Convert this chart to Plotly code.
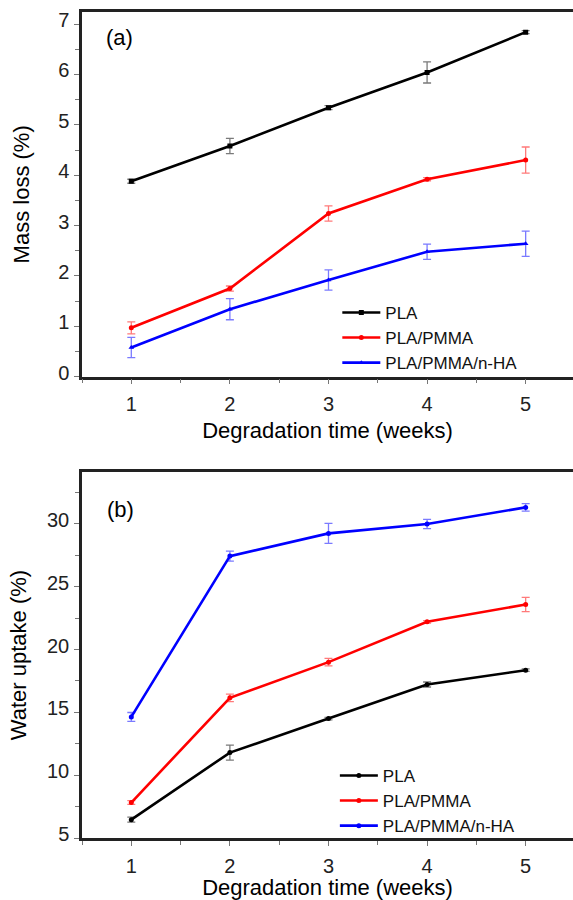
import plotly.graph_objects as go

# ---------------- data ----------------
weeks = [1, 2, 3, 4, 5]
series_names = ["PLA", "PLA/PMMA", "PLA/PMMA/n-HA"]

# (a) Mass loss (%)
mass_pla = [3.88, 4.58, 5.34, 6.04, 6.84]
mass_pla_err = [0.04, 0.15, 0.04, 0.21, 0.03]
mass_pmma = [0.97, 1.75, 3.24, 3.92, 4.30]
mass_pmma_err = [0.12, 0.05, 0.15, 0.03, 0.26]
mass_nha = [0.58, 1.34, 1.92, 2.48, 2.64]
mass_nha_err = [0.20, 0.21, 0.20, 0.15, 0.25]

# (b) Water uptake (%)
water_pla = [6.46, 11.80, 14.51, 17.22, 18.36]
water_pla_err = [0.20, 0.60, 0.10, 0.20, 0.10]
water_pmma = [7.82, 16.16, 19.00, 22.21, 23.59]
water_pmma_err = [0.15, 0.30, 0.30, 0.10, 0.57]
water_nha = [14.64, 27.44, 29.25, 30.00, 31.32]
water_nha_err = [0.35, 0.40, 0.80, 0.37, 0.30]

x_ticks = [1, 2, 3, 4, 5]
mass_ticks = [0, 1, 2, 3, 4, 5, 6, 7]
water_ticks = [5, 10, 15, 20, 25, 30]

# ---------------- styles ----------------
FONT = "Liberation Sans, Arial, Helvetica, sans-serif"
line_cols = ["#000000", "#ff0000", "#0000ff"]
err_cols = ["#7a7a7a", "#ff7a7a", "#7a7aff"]
sym_top = ["square", "circle", "triangle-up"]
sym_bot = ["circle", "circle", "circle"]

fig = go.Figure()

top_sets = [(mass_pla, mass_pla_err), (mass_pmma, mass_pmma_err), (mass_nha, mass_nha_err)]
bot_sets = [(water_pla, water_pla_err), (water_pmma, water_pmma_err), (water_nha, water_nha_err)]

for i, (vals, errs) in enumerate(top_sets):
    fig.add_trace(go.Scatter(
        x=weeks, y=vals, name=series_names[i], mode="lines+markers",
        line=dict(color=line_cols[i], width=2.6),
        marker=dict(symbol=sym_top[i], size=5, color=line_cols[i]),
        error_y=dict(type="data", array=errs, visible=True, color=err_cols[i], thickness=1.3, width=4),
        xaxis="x", yaxis="y", legend="legend",
    ))

for i, (vals, errs) in enumerate(bot_sets):
    fig.add_trace(go.Scatter(
        x=weeks, y=vals, name=series_names[i], mode="lines+markers",
        line=dict(color=line_cols[i], width=2.6),
        marker=dict(symbol=sym_bot[i], size=5, color=line_cols[i]),
        error_y=dict(type="data", array=errs, visible=True, color=err_cols[i], thickness=1.3, width=4),
        xaxis="x2", yaxis="y2", legend="legend2",
    ))

tickfont = dict(family=FONT, size=20, color="#222222")
titlefont = dict(family=FONT, size=22, color="#000000")

xcommon = dict(
    range=[0.5, 5.48], tickvals=x_ticks, ticks="outside", ticklen=5, tickwidth=1.2,
    tickcolor="#777777", showline=True, linecolor="#222222", linewidth=2.5, mirror=True,
    showgrid=False, zeroline=False, tickfont=tickfont, ticklabelstandoff=3, automargin=False,
    minor=dict(dtick=0.5, tick0=0.5, ticks="outside", ticklen=4, tickcolor="#777777", tickwidth=1.2),
)
ycommon = dict(
    ticks="outside", ticklen=5, tickwidth=1.2, tickcolor="#777777",
    showline=True, linecolor="#222222", linewidth=2.5, mirror=False, automargin=False,
    showgrid=False, zeroline=False, tickfont=tickfont, ticklabelshift=-4, ticklabelstandoff=1,
)

fig.update_layout(
    width=573, height=900,
    margin=dict(l=82, r=0, t=12, b=62),
    paper_bgcolor="white", plot_bgcolor="white",
    font=dict(family=FONT, color="#000000"),
    xaxis=dict(domain=[0, 1], anchor="y",
               title=dict(text="Degradation time (weeks)", font=titlefont, standoff=9), **xcommon),
    yaxis=dict(domain=[0.5585, 1.0], anchor="x", range=[0, 7.24], tickvals=mass_ticks,
               minor=dict(dtick=0.5, tick0=0, ticks="outside", ticklen=4, tickcolor="#777777", tickwidth=1.2),
               title=dict(text="Mass loss (%)", font=titlefont, standoff=23), **ycommon),
    xaxis2=dict(domain=[0, 1], anchor="y2",
                title=dict(text="Degradation time (weeks)", font=titlefont, standoff=13), **xcommon),
    yaxis2=dict(domain=[0.0, 0.443], anchor="x2", range=[5, 34.13], tickvals=water_ticks,
                minor=dict(dtick=2.5, tick0=5, ticks="outside", ticklen=4, tickcolor="#777777", tickwidth=1.2),
                title=dict(text="Water uptake (%)", font=titlefont, standoff=15), **ycommon),
    legend=dict(x=0.52, y=0.6575, xanchor="left", yanchor="top", bgcolor="rgba(0,0,0,0)",
                font=dict(family=FONT, size=17, color="#111111"), itemwidth=38, tracegroupgap=0),
    legend2=dict(x=0.515, y=0.097, xanchor="left", yanchor="top", bgcolor="rgba(0,0,0,0)",
                 font=dict(family=FONT, size=17, color="#111111"), itemwidth=38, tracegroupgap=0),
    annotations=[
        dict(text="(a)", x=0.878, y=6.74, xref="x", yref="y", showarrow=False,
             font=dict(family=FONT, size=22, color="#000000")),
        dict(text="(b)", x=0.89, y=31.12, xref="x2", yref="y2", showarrow=False,
             font=dict(family=FONT, size=22, color="#000000")),
    ],
)

fig.write_html(
    "out.html",
    config={"displayModeBar": False},
    post_script="document.body.style.margin='0';document.body.style.padding='0';"
                "document.body.style.overflow='hidden';",
)
